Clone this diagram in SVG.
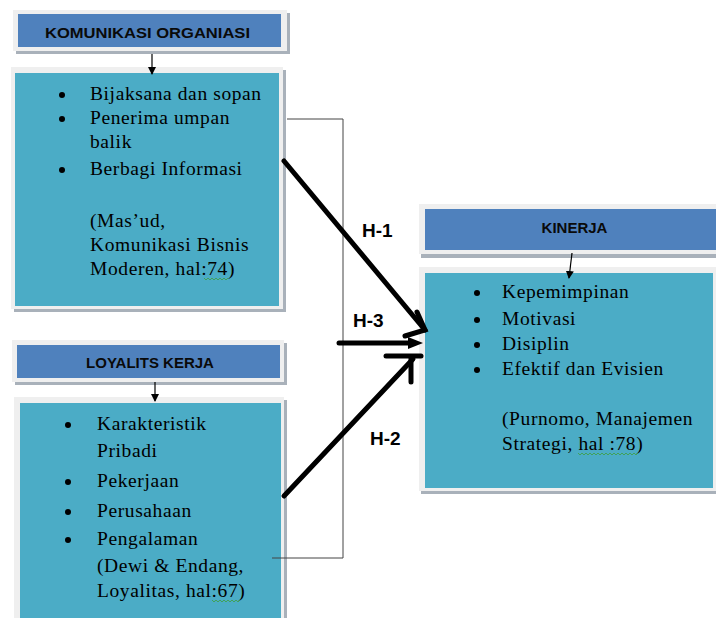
<svg xmlns="http://www.w3.org/2000/svg" width="716" height="618" viewBox="0 0 716 618">
<style>
.sh{fill:#a9b1ba}
.fr{fill:#efefef}
.hd{fill:#4f81bd}
.ct{fill:#4bacc6}
.ht{font-family:"Liberation Sans",Arial,sans-serif;font-weight:bold;font-size:15px;fill:#0a0a0a;text-anchor:middle}
.bt{font-family:"Liberation Serif","Times New Roman",serif;font-size:19.5px;letter-spacing:0.6px;fill:#000}
.bu{fill:#000}
.lb{font-family:"Liberation Sans",Arial,sans-serif;font-weight:bold;font-size:19px;fill:#000}
.th{stroke:#000;stroke-width:5;stroke-linecap:round;fill:none}
.sq{stroke:#3f9f3f;stroke-width:0.8;fill:none}
</style>
<defs>
<marker id="sa" markerWidth="8" markerHeight="8" refX="7" refY="4" orient="auto" markerUnits="userSpaceOnUse">
<path d="M0,0 L8,4 L0,8 Z" fill="#000"/>
</marker>
</defs>

<g id="komunikasi-header">
<rect class="sh" x="16" y="13" width="274" height="41"/>
<rect class="fr" x="13" y="10" width="274" height="41"/>
<rect class="hd" x="18" y="14" width="263" height="33"/>
<text class="ht" x="147.5" y="38" font-size="16" textLength="205" lengthAdjust="spacingAndGlyphs">KOMUNIKASI ORGANIASI</text>
</g>

<g id="komunikasi-content">
<rect class="sh" x="14" y="70" width="272" height="242"/>
<rect class="fr" x="11" y="67" width="272" height="242"/>
<rect class="ct" x="15" y="73" width="264" height="233"/>
<circle class="bu" cx="62" cy="95" r="3"/>
<text class="bt" x="90" y="100">Bijaksana dan sopan</text>
<circle class="bu" cx="62" cy="119" r="3"/>
<text class="bt" x="90" y="124">Penerima umpan</text>
<text class="bt" x="90" y="148">balik</text>
<circle class="bu" cx="62" cy="170" r="3"/>
<text class="bt" x="90" y="175">Berbagi Informasi</text>
<text class="bt" x="90" y="227">(Mas’ud,</text>
<text class="bt" x="90" y="251">Komunikasi Bisnis</text>
<text class="bt" x="90" y="275">Moderen, hal:74)</text>
<path class="sq" d="M204,278 l2,2 l2,-2 l2,2 l2,-2 l2,2 l2,-2 l2,2 l2,-2 l2,2 l2,-2 l2,2 l2,-2"/>
</g>

<g id="loyalitas-header">
<rect class="sh" x="15" y="343" width="272" height="42"/>
<rect class="fr" x="12" y="340" width="272" height="42"/>
<rect class="hd" x="17" y="345" width="263" height="33"/>
<text class="ht" x="150" y="368">LOYALITS KERJA</text>
</g>

<g id="loyalitas-content">
<rect class="sh" x="17" y="400" width="270" height="230"/>
<rect class="fr" x="14" y="397" width="270" height="230"/>
<rect class="ct" x="20" y="403" width="261" height="220"/>
<circle class="bu" cx="68" cy="425" r="3"/>
<text class="bt" x="97" y="430">Karakteristik</text>
<text class="bt" x="97" y="457">Pribadi</text>
<circle class="bu" cx="68" cy="482" r="3"/>
<text class="bt" x="97" y="487">Pekerjaan</text>
<circle class="bu" cx="68" cy="512" r="3"/>
<text class="bt" x="97" y="517">Perusahaan</text>
<circle class="bu" cx="68" cy="540" r="3"/>
<text class="bt" x="97" y="545">Pengalaman</text>
<text class="bt" x="97" y="572">(Dewi &amp; Endang,</text>
<text class="bt" x="97" y="597">Loyalitas, hal:67)</text>
<path class="sq" d="M212,600 l2,2 l2,-2 l2,2 l2,-2 l2,2 l2,-2 l2,2 l2,-2 l2,2 l2,-2 l2,2 l2,-2 l2,2 l2,-2"/>
</g>

<g id="kinerja-header">
<rect class="sh" x="421" y="208" width="300" height="50"/>
<rect class="fr" x="419" y="204" width="300" height="50"/>
<rect class="hd" x="425" y="209" width="300" height="41"/>
<text class="ht" x="574.5" y="233">KINERJA</text>
</g>

<g id="kinerja-content">
<rect class="sh" x="421" y="270" width="297" height="224"/>
<rect class="fr" x="419" y="267" width="297" height="224"/>
<rect class="ct" x="425" y="273" width="288" height="215"/>
<circle class="bu" cx="477" cy="293" r="3"/>
<text class="bt" x="502" y="298">Kepemimpinan</text>
<circle class="bu" cx="477" cy="320" r="3"/>
<text class="bt" x="502" y="325">Motivasi</text>
<circle class="bu" cx="477" cy="345" r="3"/>
<text class="bt" x="502" y="350">Disiplin</text>
<circle class="bu" cx="477" cy="370" r="3"/>
<text class="bt" x="502" y="375">Efektif dan Evisien</text>
<text class="bt" x="502" y="425">(Purnomo,  Manajemen</text>
<text class="bt" x="502" y="450">Strategi, hal :78)</text>
<path class="sq" d="M578,453 l2,2 l2,-2 l2,2 l2,-2 l2,2 l2,-2 l2,2 l2,-2 l2,2 l2,-2 l2,2 l2,-2 l2,2 l2,-2 l2,2 l2,-2 l2,2 l2,-2 l2,2 l2,-2 l2,2 l2,-2 l2,2 l2,-2 l2,2 l2,-2 l2,2 l2,-2 l2,2 l2,-2"/>
</g>

<g id="connectors">
<line x1="152" y1="54" x2="152" y2="74" stroke="#000" stroke-width="1.2" marker-end="url(#sa)"/>
<line x1="155" y1="382" x2="155" y2="401" stroke="#000" stroke-width="1.2" marker-end="url(#sa)"/>
<line x1="572" y1="253" x2="569" y2="278" stroke="#000" stroke-width="1.2" marker-end="url(#sa)"/>
<polyline points="287,119 343,119 343,558 272,558" fill="none" stroke="#444" stroke-width="1"/>
<line class="th" x1="284" y1="161" x2="425" y2="330"/>
<polyline class="th" points="417,312 425,330 405,336"/>
<line class="th" x1="339" y1="343" x2="414" y2="343"/>
<path d="M423,343 L408,337 L408,349 Z" fill="#000"/>
<line class="th" x1="284" y1="496" x2="413" y2="359"/>
<line class="th" x1="386" y1="356" x2="421" y2="356"/>
<line class="th" x1="411" y1="358" x2="411" y2="382"/>
<text class="lb" x="362" y="237">H-1</text>
<text class="lb" x="353" y="327">H-3</text>
<text class="lb" x="370" y="445">H-2</text>
</g>
</svg>
